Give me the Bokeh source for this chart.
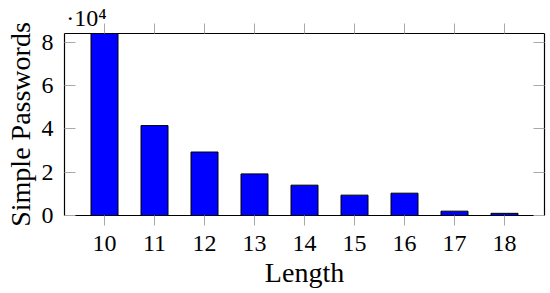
from bokeh.plotting import figure
from bokeh.models import Range1d, FixedTicker, LinearAxis
from bokeh.embed import file_html
from bokeh.resources import INLINE

# Data
lengths = [10, 11, 12, 13, 14, 15, 16, 17, 18]
counts = [84000, 41500, 29300, 19200, 14000, 9400, 10300, 2000, 1000]
y_ticks = [0, 20000, 40000, 60000, 80000]
y_tick_labels = ["0", "2", "4", "6", "8"]
x_label = "Length"
y_label = "Simple Passwords"
scale_label = "\u00b710\u2074"

FONT = "Liberation Serif"
TICK_GRAY = "#a8a8a8"

x_start, x_end = min(lengths) - 0.8, max(lengths) + 0.8
scale_label_x = x_start + 0.44   # horizontal anchor (centre) of the scale label

p = figure(
    width=550, height=293,
    x_range=Range1d(x_start, x_end),
    y_range=Range1d(0, max(counts)),
    output_backend="svg", toolbar_location=None,
    min_border_left=64, min_border_right=6, min_border_top=33, min_border_bottom=78,
)
p.outline_line_color = None
p.xgrid.visible = False
p.ygrid.visible = False
p.background_fill_color = "white"
p.border_fill_color = "white"

p.vbar(x=lengths, top=counts, width=0.54, fill_color="#0000ff",
       line_color="#000000", line_width=1)

def style_axis(ax):
    ax.axis_line_color = "black"
    ax.axis_line_width = 1.2
    ax.major_tick_line_color = TICK_GRAY
    ax.major_tick_line_width = 1
    ax.minor_tick_line_color = None
    ax.major_label_text_font = FONT
    ax.major_label_text_font_size = "24px"
    ax.major_label_text_color = "black"
    ax.axis_label_text_font = FONT
    ax.axis_label_text_font_size = "28px"
    ax.axis_label_text_font_style = "normal"
    ax.axis_label_text_color = "black"

# bottom axis
xa = p.xaxis[0]
style_axis(xa)
xa.ticker = FixedTicker(ticks=lengths)
xa.major_tick_out = 10
xa.major_tick_in = 0
xa.major_label_standoff = 10
xa.axis_label = x_label
xa.axis_label_standoff = 3

# left axis
ya = p.yaxis[0]
style_axis(ya)
ya.ticker = FixedTicker(ticks=y_ticks)
ya.major_label_overrides = {t: s for t, s in zip(y_ticks, y_tick_labels)}
ya.major_tick_out = 0
ya.major_tick_in = 11
ya.major_label_standoff = 11
ya.axis_label = y_label
ya.axis_label_standoff = 3

# top axis (mirror ticks)
ta = LinearAxis(ticker=FixedTicker(ticks=lengths))
style_axis(ta)
ta.major_tick_out = 10
ta.major_tick_in = 0
ta.major_label_overrides = {t: "" for t in lengths}
ta.major_label_standoff = 0
ta.axis_label_standoff = 0
p.add_layout(ta, "above")

# scale factor (·10^4) shown as a label of an invisible top axis
sa = LinearAxis(ticker=FixedTicker(ticks=[scale_label_x]))
style_axis(sa)
sa.axis_line_color = None
sa.major_tick_line_color = None
sa.major_tick_out = 0
sa.major_tick_in = 0
sa.major_label_overrides = {scale_label_x: scale_label}
sa.major_label_standoff = -7
sa.axis_label_standoff = 0
p.add_layout(sa, "above")

# right axis (mirror)
ra = LinearAxis(ticker=FixedTicker(ticks=y_ticks))
style_axis(ra)
ra.major_tick_out = 0
ra.major_tick_in = 11
ra.major_label_overrides = {t: "" for t in y_ticks}
ra.major_label_standoff = 0
ra.axis_label_standoff = 0
p.add_layout(ra, "right")

open("out.html", "w").write(file_html(p, INLINE))
